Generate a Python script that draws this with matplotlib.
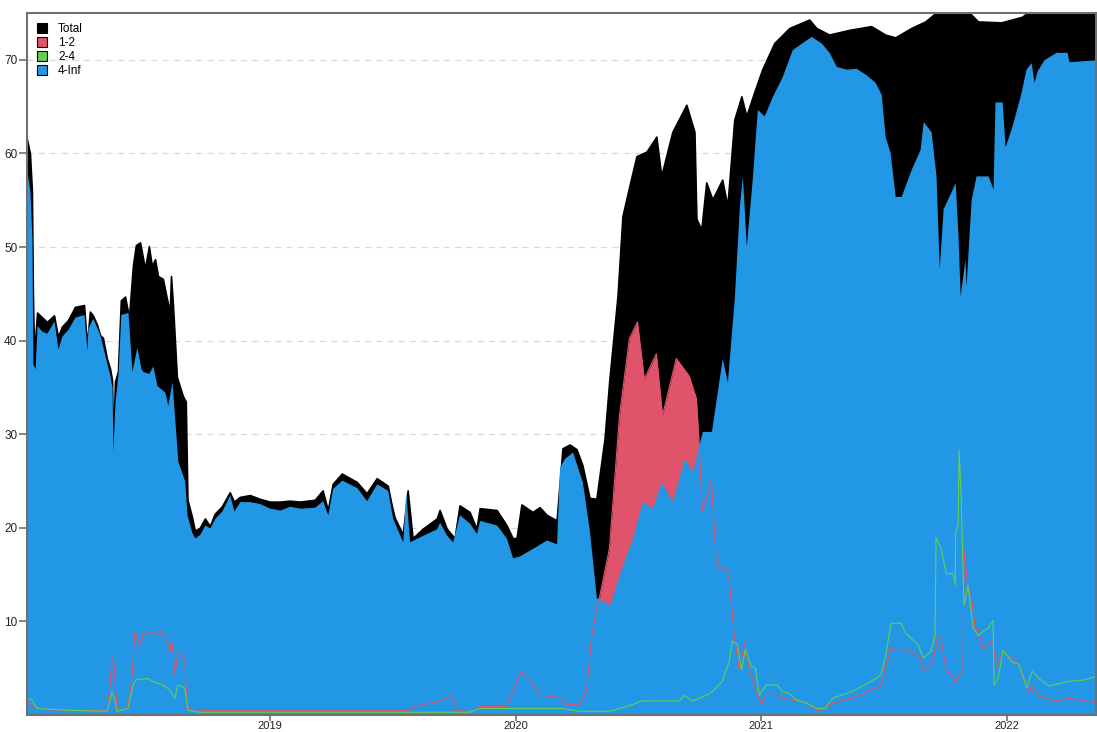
import matplotlib
matplotlib.use("Agg")
import matplotlib.pyplot as plt
from matplotlib.patches import Patch

plt.rcParams['font.family'] = ['Liberation Sans', 'DejaVu Sans']

# ---- data (time in decimal years, values in index units) ----
total_t = [2018.012, 2018.024, 2018.032, 2018.036, 2018.041, 2018.053, 2018.073, 2018.093,
           2018.122, 2018.138, 2018.154, 2018.179, 2018.207, 2018.244, 2018.256, 2018.268,
           2018.280, 2018.297, 2018.309, 2018.321, 2018.337, 2018.350, 2018.358, 2018.362,
           2018.370, 2018.382, 2018.394, 2018.411, 2018.427, 2018.443, 2018.455, 2018.472,
           2018.492, 2018.508, 2018.520, 2018.533, 2018.545, 2018.565, 2018.581, 2018.593,
           2018.598, 2018.606, 2018.622, 2018.646, 2018.658, 2018.665, 2018.683, 2018.695,
           2018.715, 2018.736, 2018.756, 2018.776, 2018.805, 2018.837, 2018.854, 2018.878,
           2018.919, 2018.959, 2019.000, 2019.041, 2019.081, 2019.122, 2019.183, 2019.215,
           2019.236, 2019.256, 2019.293, 2019.354, 2019.394, 2019.435, 2019.480, 2019.496,
           2019.508, 2019.541, 2019.561, 2019.581, 2019.622, 2019.679, 2019.691, 2019.720,
           2019.752, 2019.772, 2019.813, 2019.841, 2019.854, 2019.923, 2019.963, 2019.988,
           2020.004, 2020.024, 2020.069, 2020.098, 2020.126, 2020.167, 2020.191, 2020.220,
           2020.248, 2020.272, 2020.301, 2020.329, 2020.362, 2020.382, 2020.415, 2020.435,
           2020.463, 2020.492, 2020.533, 2020.573, 2020.593, 2020.638, 2020.695, 2020.728,
           2020.736, 2020.756, 2020.776, 2020.801, 2020.841, 2020.862, 2020.890, 2020.919,
           2020.939, 2020.972, 2021.004, 2021.053, 2021.114, 2021.195, 2021.224, 2021.276,
           2021.358, 2021.447, 2021.504, 2021.545, 2021.610, 2021.667, 2021.732, 2021.829,
           2021.882, 2021.976, 2022.061, 2022.130, 2022.362]
total_v = [61.5, 60.0, 56.0, 45.0, 38.5, 43.0, 42.5, 42.0,
           42.7, 40.4, 41.5, 42.2, 43.6, 43.8, 39.5, 43.1,
           42.7, 41.7, 40.6, 40.3, 38.1, 37.0, 35.8, 28.5,
           35.6, 36.7, 44.3, 44.7, 42.5, 48.0, 50.2, 50.5,
           47.7, 50.1, 48.0, 48.7, 46.9, 46.6, 44.5, 43.1,
           46.9, 43.8, 36.1, 34.1, 33.5, 23.0, 21.2, 19.7,
           20.0, 21.0, 20.2, 21.5, 22.3, 23.8, 22.8, 23.3,
           23.5, 23.1, 22.8, 22.8, 22.9, 22.8, 23.0, 24.0,
           21.9, 24.7, 25.8, 24.9, 23.7, 25.3, 24.5, 22.4,
           21.1, 19.3, 24.0, 18.9, 19.9, 21.0, 21.9, 19.9,
           18.9, 22.4, 21.7, 19.9, 22.1, 21.9, 20.3, 18.9,
           18.9, 22.5, 21.7, 22.2, 21.4, 20.8, 28.5, 28.9,
           28.4, 26.7, 23.2, 23.1, 29.5, 35.9, 44.8, 53.3,
           56.5, 59.7, 60.2, 61.8, 57.6, 62.3, 65.2, 62.3,
           53.0, 51.9, 56.9, 55.1, 57.2, 54.4, 63.6, 66.1,
           64.0, 66.6, 69.0, 71.8, 73.4, 74.3, 73.4, 72.7,
           73.2, 73.6, 72.7, 72.4, 73.4, 74.1, 75.5, 75.5,
           74.1, 74.0, 74.6, 76.0, 76.0]

inf_t = [2018.012, 2018.024, 2018.032, 2018.036, 2018.045, 2018.053, 2018.073, 2018.093,
         2018.122, 2018.138, 2018.154, 2018.179, 2018.207, 2018.244, 2018.256, 2018.260,
         2018.280, 2018.309, 2018.337, 2018.350, 2018.358, 2018.362, 2018.370, 2018.382,
         2018.394, 2018.423, 2018.439, 2018.459, 2018.476, 2018.484, 2018.508, 2018.524,
         2018.541, 2018.573, 2018.585, 2018.602, 2018.626, 2018.654, 2018.663, 2018.683,
         2018.695, 2018.715, 2018.736, 2018.756, 2018.776, 2018.805, 2018.837, 2018.854,
         2018.878, 2018.919, 2018.959, 2019.000, 2019.041, 2019.081, 2019.122, 2019.183,
         2019.215, 2019.236, 2019.256, 2019.293, 2019.354, 2019.394, 2019.435, 2019.480,
         2019.500, 2019.541, 2019.553, 2019.569, 2019.622, 2019.679, 2019.691, 2019.720,
         2019.744, 2019.772, 2019.813, 2019.841, 2019.854, 2019.923, 2019.963, 2019.988,
         2020.016, 2020.069, 2020.126, 2020.167, 2020.179, 2020.199, 2020.232, 2020.252,
         2020.272, 2020.301, 2020.329, 2020.341, 2020.382, 2020.435, 2020.476, 2020.516,
         2020.557, 2020.593, 2020.638, 2020.687, 2020.720, 2020.760, 2020.797, 2020.841,
         2020.862, 2020.890, 2020.911, 2020.923, 2020.939, 2020.963, 2020.984, 2021.012,
         2021.045, 2021.085, 2021.126, 2021.203, 2021.244, 2021.276, 2021.305, 2021.346,
         2021.386, 2021.427, 2021.463, 2021.488, 2021.504, 2021.524, 2021.545, 2021.569,
         2021.610, 2021.646, 2021.659, 2021.691, 2021.711, 2021.724, 2021.740, 2021.772,
         2021.789, 2021.801, 2021.809, 2021.829, 2021.833, 2021.854, 2021.874, 2021.923,
         2021.943, 2021.951, 2021.980, 2021.992, 2022.020, 2022.057, 2022.077, 2022.098,
         2022.110, 2022.122, 2022.150, 2022.199, 2022.244, 2022.252, 2022.362]
inf_v = [58.0, 56.0, 51.0, 37.5, 37.0, 41.6, 41.0, 40.8,
         42.1, 39.1, 40.5, 41.2, 42.5, 42.8, 39.0, 41.3,
         42.4, 40.6, 37.6, 36.2, 35.0, 28.2, 33.5, 36.3,
         42.8, 43.0, 36.7, 39.3, 37.0, 36.7, 36.5, 37.3,
         35.2, 34.5, 33.1, 35.6, 27.1, 25.0, 21.4, 19.5,
         18.9, 19.3, 20.3, 20.0, 21.0, 21.8, 23.5, 21.8,
         22.8, 22.8, 22.6, 22.1, 21.9, 22.3, 22.1, 22.2,
         22.9, 21.4, 24.2, 25.1, 24.3, 22.9, 24.7, 24.0,
         21.0, 18.5, 23.8, 18.5, 19.2, 19.9, 20.6, 19.2,
         18.5, 21.4, 20.5, 19.4, 20.8, 20.3, 18.9, 16.8,
         17.0, 17.8, 18.7, 18.3, 26.5, 27.4, 28.1, 26.5,
         24.9, 19.6, 12.5, 12.5, 11.7, 16.0, 18.9, 22.8,
         22.1, 24.9, 22.8, 27.4, 26.0, 30.3, 30.3, 38.1,
         35.6, 44.5, 54.4, 57.6, 50.1, 57.2, 64.7, 64.0,
         66.1, 68.2, 71.1, 72.5, 71.8, 70.8, 69.3, 69.0,
         69.1, 68.4, 67.6, 66.3, 61.8, 60.1, 55.4, 55.4,
         58.3, 60.4, 63.4, 62.3, 57.6, 47.7, 54.1, 55.9,
         56.9, 50.9, 44.8, 48.7, 45.8, 55.1, 57.6, 57.6,
         56.2, 65.5, 65.5, 60.7, 62.9, 66.5, 69.0, 69.7,
         67.6, 68.8, 70.0, 70.8, 70.8, 69.8, 70.0]

r12_t = [2018.012, 2018.036, 2018.077, 2018.187, 2018.337, 2018.350, 2018.358, 2018.366,
         2018.378, 2018.423, 2018.439, 2018.451, 2018.472, 2018.484, 2018.512, 2018.541,
         2018.561, 2018.581, 2018.593, 2018.602, 2018.614, 2018.626, 2018.654, 2018.663,
         2018.715, 2019.569, 2019.589, 2019.691, 2019.744, 2019.760, 2019.833, 2019.854,
         2019.963, 2019.988, 2020.024, 2020.057, 2020.098, 2020.150, 2020.187, 2020.207,
         2020.260, 2020.289, 2020.309, 2020.329, 2020.341, 2020.382, 2020.423, 2020.463,
         2020.496, 2020.524, 2020.573, 2020.598, 2020.654, 2020.707, 2020.736, 2020.748,
         2020.760, 2020.797, 2020.817, 2020.829, 2020.858, 2020.870, 2020.890, 2020.911,
         2020.931, 2020.951, 2020.980, 2021.000, 2021.020, 2021.061, 2021.085, 2021.183,
         2021.224, 2021.260, 2021.289, 2021.370, 2021.447, 2021.488, 2021.504, 2021.528,
         2021.598, 2021.646, 2021.659, 2021.691, 2021.707, 2021.720, 2021.732, 2021.752,
         2021.780, 2021.789, 2021.821, 2021.825, 2021.841, 2021.854, 2021.870, 2021.882,
         2021.902, 2021.943, 2021.955, 2021.984, 2022.049, 2022.089, 2022.102, 2022.130,
         2022.199, 2022.252, 2022.362]
r12_v = [1.5, 0.9, 0.6, 0.5, 0.5, 3.0, 6.1, 5.5,
         0.7, 0.9, 3.9, 8.9, 7.5, 8.6, 8.9, 8.6,
         8.9, 7.9, 6.8, 7.9, 4.3, 6.8, 6.1, 0.7,
         0.5, 0.5, 0.9, 1.5, 2.1, 0.5, 0.6, 0.9,
         0.9, 2.5, 4.7, 3.9, 2.1, 2.0, 1.8, 1.1,
         1.1, 2.5, 8.2, 11.4, 12.5, 17.8, 32.0, 40.2,
         42.0, 35.9, 38.6, 32.0, 38.1, 36.2, 33.8, 28.5,
         21.7, 25.1, 16.4, 15.7, 15.7, 14.3, 8.5, 4.7,
         7.7, 5.0, 2.5, 1.1, 2.1, 2.1, 1.8, 1.3,
         0.5, 0.6, 1.3, 1.8, 2.7, 3.1, 5.0, 7.1,
         6.9, 6.1, 4.8, 5.3, 6.9, 8.4, 8.0, 4.7,
         4.3, 3.4, 5.0, 17.6, 13.5, 12.8, 9.3, 9.2,
         7.1, 8.0, 5.0, 6.8, 5.4, 2.3, 3.2, 2.0,
         1.5, 1.8, 1.3]

r24_t = [2018.012, 2018.032, 2018.053, 2018.187, 2018.337, 2018.350, 2018.358, 2018.370,
         2018.378, 2018.423, 2018.443, 2018.459, 2018.504, 2018.524, 2018.565, 2018.593,
         2018.614, 2018.626, 2018.654, 2018.667, 2018.715, 2019.528, 2019.813, 2019.854,
         2020.191, 2020.260, 2020.382, 2020.451, 2020.516, 2020.667, 2020.687, 2020.720,
         2020.776, 2020.801, 2020.841, 2020.870, 2020.882, 2020.902, 2020.919, 2020.935,
         2020.959, 2020.976, 2020.992, 2021.020, 2021.065, 2021.085, 2021.114, 2021.142,
         2021.183, 2021.224, 2021.260, 2021.289, 2021.370, 2021.447, 2021.488, 2021.504,
         2021.528, 2021.569, 2021.589, 2021.638, 2021.659, 2021.691, 2021.707, 2021.711,
         2021.732, 2021.752, 2021.780, 2021.789, 2021.791, 2021.801, 2021.805, 2021.813,
         2021.825, 2021.841, 2021.862, 2021.882, 2021.923, 2021.943, 2021.947, 2021.963,
         2021.984, 2022.020, 2022.049, 2022.081, 2022.102, 2022.130, 2022.171, 2022.252,
         2022.305, 2022.362]
r24_v = [1.8, 1.6, 0.7, 0.5, 0.4, 1.5, 2.5, 1.5,
         0.4, 0.7, 3.2, 3.8, 3.9, 3.6, 3.2, 2.7,
         1.8, 3.2, 2.9, 0.5, 0.3, 0.3, 0.3, 0.7,
         0.7, 0.4, 0.4, 0.9, 1.5, 1.5, 2.1, 1.5,
         2.1, 2.5, 3.6, 5.7, 7.9, 7.6, 4.8, 7.0,
         5.2, 5.0, 2.1, 3.2, 3.2, 2.5, 2.3, 1.6,
         1.3, 0.7, 0.7, 1.8, 2.5, 3.6, 4.3, 6.1,
         9.8, 9.8, 8.7, 7.5, 6.1, 6.8, 8.5, 18.9,
         17.8, 15.1, 15.1, 13.9, 19.6, 20.3, 28.3, 23.5,
         11.7, 13.9, 9.3, 8.5, 9.3, 10.1, 3.2, 3.9,
         6.9, 5.7, 5.4, 2.9, 4.7, 3.9, 3.1, 3.6,
         3.7, 4.1]

labels = ["Total", "1-2", "2-4", "4-Inf"]
colors = ["#000000", "#DF536B", "#61D04F", "#2297E6"]
y_ticks = [10, 20, 30, 40, 50, 60, 70]
x_ticks = [2019, 2020, 2021, 2022]

fig = plt.figure(figsize=(10.97, 7.32), dpi=100)
ax = fig.add_axes([0.0246, 0.0232, 0.9745, 0.9590])

# stacked-over areas: total first, blue bucket last, thin lines for the short buckets on top
ax.fill_between(total_t, total_v, color=colors[0], lw=1.2, edgecolor=colors[0], zorder=2)
ax.fill_between(r12_t, r12_v, color=colors[1], lw=0, zorder=3)
ax.fill_between(r24_t, r24_v, color=colors[2], lw=0, zorder=4)
ax.fill_between(inf_t, inf_v, color=colors[3], lw=0, zorder=5)
ax.plot(r12_t, r12_v, color=colors[1], lw=0.8, zorder=6)
ax.plot(r24_t, r24_v, color=colors[2], lw=0.8, zorder=7)

ax.set_xlim(2018.012, 2022.362)
ax.set_ylim(0, 75)
ax.set_yticks(y_ticks)
ax.set_xticks(x_ticks)
ax.set_xticklabels([str(t) for t in x_ticks])
ax.grid(axis='y', color='#d9d9d9', linestyle=(0, (5, 4)), lw=0.9, zorder=1)
ax.set_axisbelow(True)
ax.tick_params(axis='y', direction='out', length=6, width=1.2, color='#707070',
               labelsize=8.5, labelcolor='#222222', pad=1)
ax.tick_params(axis='x', direction='out', length=4, width=1.2, color='#707070',
               labelsize=8, labelcolor='#222222', pad=0)
for s in ax.spines.values():
    s.set_color('#707070')
    s.set_linewidth(1.5)
    s.set_zorder(10)

handles = [Patch(facecolor=c, edgecolor='#000000', lw=0.8) for c in colors]
ax.legend(handles, labels, loc='upper left', bbox_to_anchor=(0.002, 0.997), frameon=False,
          fontsize=8.5, handlelength=0.9, handleheight=0.9, handletextpad=0.9,
          labelspacing=0.17, borderaxespad=0.25)

fig.savefig("out.png", dpi=100)
